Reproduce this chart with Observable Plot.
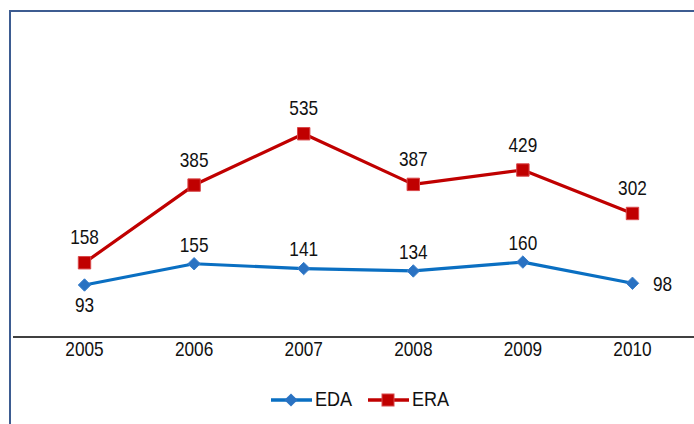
<!DOCTYPE html>
<html>
<head>
<meta charset="utf-8">
<script src="https://cdn.jsdelivr.net/npm/d3@7"></script>
<script src="https://cdn.jsdelivr.net/npm/@observablehq/plot@0.6"></script>
<style>
  body { margin: 0; background: white; }
  #wrap { position: relative; width: 694px; height: 424px; overflow: hidden; font-family: "Liberation Sans", Arial, sans-serif; }
  #border { position: absolute; left: 9px; top: 10px; width: 700px; height: 440px; border-left: 2px solid #3d5c91; border-top: 2px solid #3d5c91; pointer-events: none; }
  #chart { position: absolute; left: 0; top: 0; }
  #legend { position: absolute; left: 271px; top: 387px; display: flex; align-items: center; font-size: 21px; color: #111; }
  .item { display: flex; align-items: center; }
  .item svg { margin-right: 3px; }
  .item span { display: inline-block; transform: scaleX(0.86); transform-origin: left center; }
</style>
</head>
<body>
<div id="wrap">
  <div id="chart"></div>
  <div id="legend"></div>
  <div id="border"></div>
</div>
<script>
const years = [2005, 2006, 2007, 2008, 2009, 2010];
const edaValues = [93, 155, 141, 134, 160, 98];
const eraValues = [158, 385, 535, 387, 429, 302];
const seriesNames = ["EDA", "ERA"];
const seriesColors = ["#0a6fc2", "#c00000"];

const eda = years.map((year, i) => ({year, value: edaValues[i], series: seriesNames[0]}));
const era = years.map((year, i) => ({year, value: eraValues[i], series: seriesNames[1]}));

const yMin = -59;
const font = "Liberation Sans, Arial, sans-serif";

const chart = Plot.plot({
  width: 694,
  height: 372,
  marginLeft: 13,
  marginRight: 0,
  marginTop: 111,
  marginBottom: 35.5,
  style: {background: "transparent", fontFamily: font, fontSize: "21px", color: "#111"},
  x: {domain: [2004.352, 2010.566], ticks: years, tickFormat: d => String(d), tickSize: 0, tickPadding: 4, label: null},
  y: {domain: [yMin, 600], axis: null},
  marks: [
    Plot.ruleY([yMin], {stroke: "#404040", strokeWidth: 2}),
    Plot.line(era, {x: "year", y: "value", stroke: seriesColors[1], strokeWidth: 3.2}),
    Plot.line(eda, {x: "year", y: "value", stroke: seriesColors[0], strokeWidth: 3.2}),
    Plot.dot(era, {x: "year", y: "value", symbol: "square", r: 7, fill: seriesColors[1], stroke: "#d9484a", strokeWidth: 1}),
    Plot.dot(eda, {x: "year", y: "value", symbol: "diamond2", r: 5.6, fill: "#2a72c2", stroke: "#3a80cc", strokeWidth: 1}),
    Plot.text(era, {x: "year", y: "value", text: d => String(d.value), dy: -25, fill: "#111", fontSize: 21}),
    Plot.text(eda.filter((d, i) => i > 0 && i < years.length - 1), {x: "year", y: "value", text: d => String(d.value), dy: -19, fill: "#111", fontSize: 21}),
    Plot.text(eda.filter((d, i) => i === 0), {x: "year", y: "value", text: d => String(d.value), dy: 20, fill: "#111", fontSize: 21}),
    Plot.text(eda.filter((d, i) => i === years.length - 1), {x: "year", y: "value", text: d => String(d.value), dx: 30, dy: 1, fill: "#111", fontSize: 21})
  ]
});
document.getElementById("chart").appendChild(chart);

// condense text horizontally (reference uses a narrow face)
const sx = 0.82;
d3.select(chart).selectAll("text").each(function() {
  const w = this.getComputedTextLength();
  if (w > 0) {
    this.setAttribute("textLength", (w * sx).toFixed(2));
    this.setAttribute("lengthAdjust", "spacingAndGlyphs");
  }
});

// legend
const legend = d3.select("#legend");
seriesNames.forEach((name, i) => {
  const item = legend.append("div").attr("class", "item").style("margin-right", i === 0 ? "10px" : "0");
  const s = item.append("svg").attr("width", 41).attr("height", 20);
  s.append("line").attr("x1", 0).attr("x2", 41).attr("y1", 11).attr("y2", 11)
    .attr("stroke", seriesColors[i]).attr("stroke-width", 3.5);
  if (i === 0) {
    s.append("path").attr("d", d3.symbol(d3.symbolDiamond2, 110)())
      .attr("transform", "translate(20,11)").attr("fill", "#2a72c2");
  } else {
    s.append("rect").attr("x", 14).attr("y", 5).attr("width", 12).attr("height", 12)
      .attr("fill", seriesColors[1]).attr("stroke", "#d9484a");
  }
  item.append("span").text(name);
});
</script>
</body>
</html>
